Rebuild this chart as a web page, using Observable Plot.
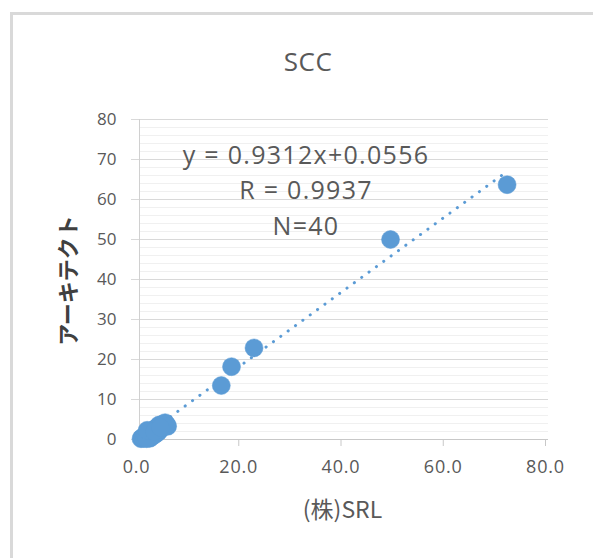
<!DOCTYPE html>
<html>
<head>
<meta charset="utf-8">
<script src="https://cdn.jsdelivr.net/npm/d3@7"></script>
<script src="https://cdn.jsdelivr.net/npm/@observablehq/plot@0.6"></script>
<style>
  html, body { margin: 0; padding: 0; background: #fff; overflow: hidden; }
  #wrap { position: relative; width: 593px; height: 558px; overflow: hidden; }
  #frame { position: absolute; left: 10px; top: 12px; width: 800px; height: 800px; border: 3px solid #d9d9d9; box-sizing: border-box; }
  #chart { position: absolute; left: 0; top: 0; }
  .eq text { letter-spacing: 1.3px; }
  g[aria-label="x-axis tick label"] text { letter-spacing: 0.8px; }
  .ttl text { letter-spacing: 0.5px; }
</style>
</head>
<body>
<div id="wrap"><div id="frame"></div><div id="chart"></div></div>
<script>
// Data: (株)SRL (x) vs アーキテクト (y)
const srl = [
  0.3, 0.5, 0.7, 0.9, 1.0, 1.2, 1.3, 1.5, 1.6, 1.8,
  2.0, 2.1, 2.3, 2.5, 2.6, 2.8, 3.0, 3.2, 3.3, 3.5,
  3.7, 3.8, 4.0, 4.2, 4.4, 4.6, 4.8, 5.0, 5.3, 5.5,
  2.0, 1.4, 1.5, 2.9, 4.1,
  16.0, 18.0, 22.4, 49.1, 71.9
];
const architect = [
  0.2, 0.5, 0.3, 0.8, 0.4, 1.0, 0.6, 1.3, 0.5, 1.5,
  1.0, 1.9, 0.6, 2.2, 1.3, 2.5, 1.2, 2.8, 1.5, 3.0,
  1.9, 3.6, 2.4, 3.6, 2.9, 3.9, 3.4, 4.2, 3.8, 3.3,
  0.3, 0.2, 2.3, 2.0, 3.0,
  13.5, 18.2, 22.9, 50.0, 63.7
];
const slope = 0.9312;
const intercept = 0.0556;
const rValue = "0.9937";
const nCount = 40;

const xTicks = [0, 20, 40, 60, 80];
const yTicks = [0, 10, 20, 30, 40, 50, 60, 70, 80];
const yMinor = d3.range(0, 81, 2).filter(v => v % 10 !== 0);

const titleText = "SCC";
const xLabel = "(株)SRL";
const yLabel = "アーキテクト";

const points = srl.map((x, i) => ({x, y: architect[i]}));
const [xmin, xmax] = d3.extent(srl);
const trend = [xmin, xmax].map(x => ({x, y: slope * x + intercept}));
const eqText = `y = ${slope}x+${intercept}\nR = ${rValue}\nN=${nCount}`;

const blue = "#5B9BD5";

const chart = Plot.plot({
  width: 593,
  height: 558,
  marginLeft: 139,
  marginRight: 45,
  marginTop: 119,
  marginBottom: 119,
  style: { fontFamily: "'Open Sans', sans-serif", background: "transparent", overflow: "visible" },
  x: { domain: [0, 80] },
  y: { domain: [0, 80] },
  marks: [
    Plot.ruleY(yMinor, { stroke: "#f0f0f0", strokeWidth: 1 }),
    Plot.ruleY(yTicks, { stroke: "#d9d9d9", strokeWidth: 1 }),
    Plot.ruleX([0], { stroke: "#d0d0d0", strokeWidth: 1 }),
    Plot.ruleY([0], { stroke: "#c8c8c8", strokeWidth: 1 }),
    Plot.axisY({ ticks: yTicks, tickSize: 8, tickPadding: 15, stroke: "#d9d9d9", fill: "#595959", fontSize: 17, label: null }),
    Plot.axisX({ ticks: xTicks, tickSize: 7, tickPadding: 14, tickFormat: d => d.toFixed(1), stroke: "#c8c8c8", fill: "#595959", fontSize: 18, dx: -3, label: null }),
    Plot.line(trend, { x: "x", y: "y", stroke: blue, strokeWidth: 3, strokeDasharray: "0.1 9", strokeLinecap: "round" }),
    Plot.dot(points, { x: "x", y: "y", r: 9, fill: blue, stroke: blue, strokeWidth: 0.5 }),
    Plot.text([titleText], { frameAnchor: "top", text: d => d, dx: -36, dy: -57, lineAnchor: "middle", fontSize: 26, fill: "#595959", className: "ttl" }),
    Plot.text([eqText], { frameAnchor: "top", text: d => d, dx: -38, dy: 68.5, lineAnchor: "middle", lineHeight: 1.43, fontSize: 25, fill: "#595959", className: "eq" }),
    Plot.text([xLabel], { frameAnchor: "bottom", text: d => d, dx: -1.5, dy: 71, lineAnchor: "middle", fontSize: 23, fill: "#595959", fontFamily: "'Noto Sans CJK JP', sans-serif" }),
    Plot.text([yLabel], { frameAnchor: "left", text: d => d, dx: -71, dy: 1, rotate: -90, textAnchor: "middle", lineAnchor: "middle", fontSize: 22, fontWeight: 600, fill: "#404040", fontFamily: "'Noto Sans CJK JP', sans-serif" })
  ]
});
document.getElementById("chart").appendChild(chart);
</script>
</body>
</html>
